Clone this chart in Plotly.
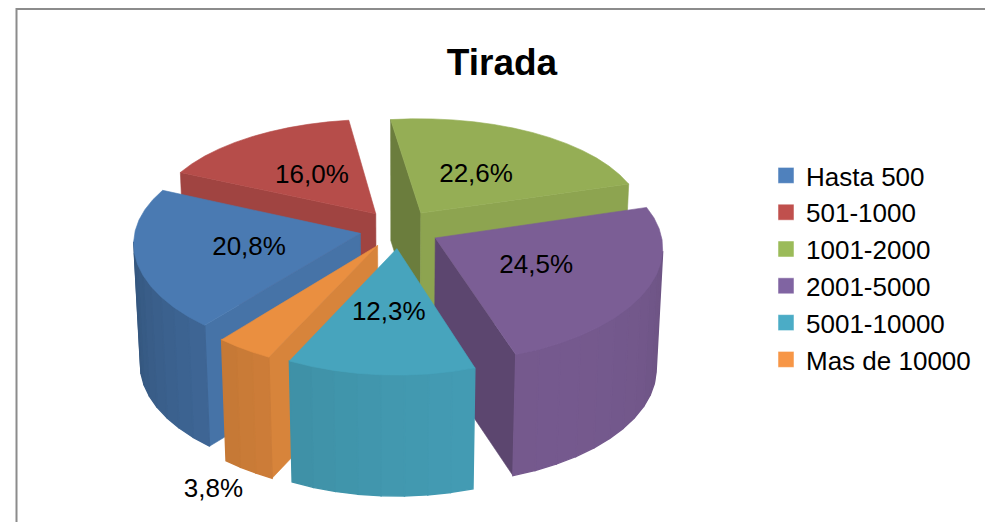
import math
import plotly.graph_objects as go

title = "Tirada"
categories = ["Hasta 500", "501-1000", "1001-2000", "2001-5000", "5001-10000", "Mas de 10000"]
values = [20.8, 16.0, 22.6, 24.5, 12.3, 3.8]
value_labels = ["20,8%", "16,0%", "22,6%", "24,5%", "12,3%", "3,8%"]
colors = [(74, 122, 178), (182, 77, 74), (149, 174, 85), (123, 94, 149), (71, 164, 189), (234, 143, 64)]
legend_colors = ["#4F81BD", "#C0504D", "#9BBB59", "#8064A2", "#4BACC6", "#F79646"]

# view geometry of the exploded pie
ROT = -8.0            # angle (clockwise from top) where "1001-2000" starts
FIRST = 2             # index of the slice beginning at ROT
CX, CY = 399.5, 229.0
RX, KY = 225.0, 108.0
PERSP_X = 0.08
PERSP_Y = 0.11
EXPLODE = 0.178
DEPTH = 121.0
TAPER = 0.025
STEP = 6.0
draw_order = [1, 2, 0, 3, 5, 4]
label_radius = [0.5, 0.5, 0.48, 0.49, 0.52, 1.24]
label_depth = [0, 0, 0, 0, 0, 0.91]
LABEL_DY = 3.0

total = sum(values)
starts = {}
a = ROT
n = len(values)
for j in range(n):
    i = (FIRST + j) % n
    starts[i] = (a, a + values[i] / total * 360)
    a = starts[i][1]


def pv(t):
    r = math.radians(t)
    return math.sin(r), -math.cos(r)


def project(u, v, z=0.0):
    sx = 1 / (1 - PERSP_X * v)
    sy = 1 / (1 - PERSP_Y * v)
    f = 1 - TAPER * z
    return CX + RX * u * sx * f, CY + KY * v * sy + z * DEPTH


def shade(phi):
    return 0.78 + 0.17 * math.cos(math.radians(phi - 150))


def rgb(c, f=1.0):
    return "rgb(%d,%d,%d)" % tuple(min(255, round(x * f)) for x in c)


def area(pts):
    s = 0
    for (x1, y1), (x2, y2) in zip(pts, pts[1:] + pts[:1]):
        s += x1 * y2 - x2 * y1
    return s / 2


fig = go.Figure()


def poly(pts, col, w=0.6):
    xs = [p[0] for p in pts] + [pts[0][0]]
    ys = [p[1] for p in pts] + [pts[0][1]]
    fig.add_trace(go.Scatter(x=xs, y=ys, mode="lines", fill="toself", fillcolor=col,
                             line=dict(color=col, width=w), hoverinfo="skip", showlegend=False))


for i in draw_order:
    t0, t1 = starts[i]
    mid = (t0 + t1) / 2
    mu, mv = pv(mid)
    ou, ov = EXPLODE * mu, EXPLODE * mv
    c = colors[i]
    k = max(1, math.ceil((t1 - t0) / STEP))
    ang = [t0 + (t1 - t0) * q / k for q in range(k + 1)]
    rim = [(ou + pv(t)[0], ov + pv(t)[1]) for t in ang]

    def quad(a_, b_):
        return [project(*a_, 0), project(*b_, 0), project(*b_, 1), project(*a_, 1)]

    walls = []
    q = quad((ou, ov), rim[0])
    walls.append((q, t0 - 90))
    q = quad(rim[-1], (ou, ov))
    walls.append((q, t1 + 90))
    for q_, w in walls:
        if area(q_) < 0:
            poly(q_, rgb(c, shade(w)))
    for j in range(k):
        q = quad(rim[j], rim[j + 1])
        if area(q) < 0:
            poly(q, rgb(c, shade((ang[j] + ang[j + 1]) / 2)), 1.4)
    poly([project(ou, ov)] + [project(*p) for p in rim], rgb(c))

# data labels
lx, ly = [], []
for i in range(n):
    t0, t1 = starts[i]
    mu, mv = pv((t0 + t1) / 2)
    x, y = project(mu * (EXPLODE + label_radius[i]), mv * (EXPLODE + label_radius[i]), label_depth[i])
    lx.append(x)
    ly.append(y + LABEL_DY)
fig.add_trace(go.Scatter(x=lx, y=ly, mode="text", text=value_labels, textposition="middle center",
                         textfont=dict(family="Liberation Sans", size=26, color="black"),
                         hoverinfo="skip", showlegend=False))

# legend entries
for name, col in zip(categories, legend_colors):
    fig.add_trace(go.Scatter(x=[None], y=[None], mode="markers", name=name,
                             marker=dict(symbol="square", size=16, color=col,
                                         line=dict(color="rgba(255,255,255,0.5)", width=1))))

fig.update_layout(
    width=985, height=522, autosize=False,
    margin=dict(l=0, r=0, t=0, b=0),
    paper_bgcolor="white", plot_bgcolor="white",
    xaxis=dict(range=[0, 985], visible=False, fixedrange=True),
    yaxis=dict(range=[522, 0], visible=False, fixedrange=True),
    title=dict(text="<b>%s</b>" % title, x=502 / 985, y=1 - 62 / 522, xanchor="center", yanchor="middle",
               font=dict(family="Liberation Sans", size=37, color="black")),
    legend=dict(x=766 / 985, y=1 - 152 / 522, xanchor="left", yanchor="top", bgcolor="rgba(0,0,0,0)",
                font=dict(family="Liberation Sans", size=26, color="black"),
                itemclick=False, itemdoubleclick=False),
    shapes=[dict(type="path", xref="x", yref="y", path="M 16.5,522 L 16.5,9 L 985,9",
                 line=dict(color="#8C8C8C", width=2))],
)
fig.write_html("out.html", config={"displayModeBar": False},
               post_script="document.body.style.margin='0';document.body.style.overflow='hidden';")
